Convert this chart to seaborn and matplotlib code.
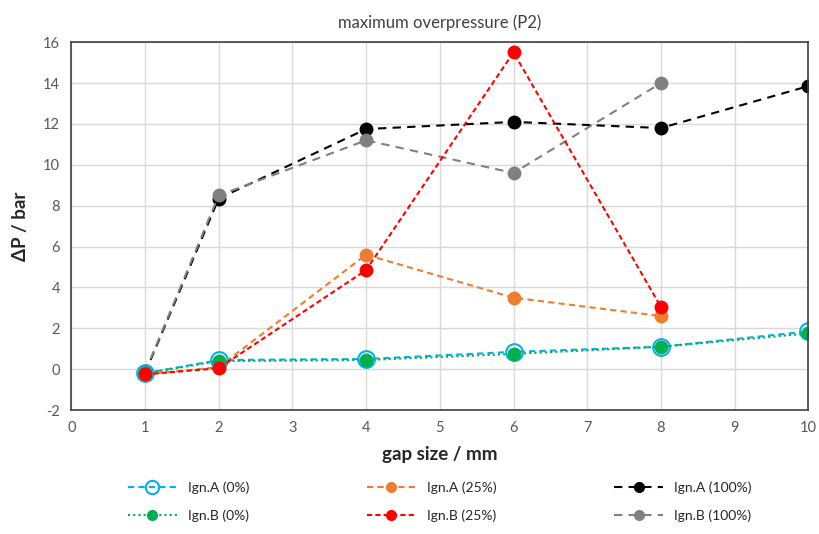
import numpy as np
import pandas as pd
import matplotlib
matplotlib.use("Agg")
import matplotlib.pyplot as plt
import seaborn as sns

# data
gap_a0 = [1, 2, 4, 6, 8, 10]
ign_a_0 = [-0.2, 0.45, 0.5, 0.85, 1.1, 1.85]
gap_b0 = [1, 2, 4, 6, 8, 10]
ign_b_0 = [-0.2, 0.4, 0.45, 0.75, 1.1, 1.75]
gap_25 = [1, 2, 4, 6, 8]
ign_a_25 = [-0.25, 0.1, 5.6, 3.5, 2.6]
ign_b_25 = [-0.25, 0.05, 4.85, 15.5, 3.05]
gap_a100 = [1, 2, 4, 6, 8, 10]
ign_a_100 = [-0.2, 8.35, 11.75, 12.1, 11.8, 13.85]
gap_b100 = [1, 2, 4, 6, 8]
ign_b_100 = [-0.15, 8.5, 11.2, 9.6, 14.0]

sns.set_style("white")
plt.rcParams['font.family'] = ['Lato', 'DejaVu Sans']
plt.rcParams['axes.unicode_minus'] = False

fig, ax = plt.subplots(figsize=(8.19, 5.34), dpi=100)
fig.subplots_adjust(left=0.087, right=0.987, top=0.921, bottom=0.232)

# series: (x, y, label, color, linestyle, marker face, marker size)
series = [
    (gap_a0, ign_a_0, "Ign.A (0%)", "#00B0F0", (0, (3, 2)), "none", 12),
    (gap_b0, ign_b_0, "Ign.B (0%)", "#00B050", (0, (1, 1.5)), "#00B050", 10),
    (gap_25, ign_a_25, "Ign.A (25%)", "#ED7D31", (0, (3, 2)), "#ED7D31", 10),
    (gap_25, ign_b_25, "Ign.B (25%)", "#FF0000", (0, (2.5, 1.5)), "#FF0000", 10),
    (gap_a100, ign_a_100, "Ign.A (100%)", "#000000", (0, (4, 3)), "#000000", 10),
    (gap_b100, ign_b_100, "Ign.B (100%)", "#808080", (0, (4, 3)), "#808080", 10),
]

draw_order = [4, 5, 2, 0, 1, 3]
handles = {}
for i in draw_order:
    x, y, lab, col, ls, mfc, ms = series[i]
    sns.lineplot(x=x, y=y, ax=ax, color=col, linestyle=ls, linewidth=1.5,
                 marker="o", markersize=ms, markerfacecolor=mfc,
                 markeredgecolor=col, markeredgewidth=1.5 if mfc == "none" else 0,
                 label=lab, sort=False)
    handles[lab] = ax.get_lines()[-1]

ax.set_xlim(0, 10)
ax.set_ylim(-2, 16)
ax.set_xticks(range(0, 11))
ax.set_yticks(range(-2, 17, 2))
ax.grid(True, color="#D9D9D9", linewidth=1)
for s in ax.spines.values():
    s.set_color("#404040")
    s.set_linewidth(1.2)
ax.tick_params(axis="both", labelsize=10.5, colors="#595959", length=0, pad=8)

ax.set_title("maximum overpressure (P2)", fontsize=12, color="#404040", pad=10)
ax.set_xlabel("gap size / mm", fontsize=13.5, fontweight="bold", labelpad=8)
ax.set_ylabel("ΔP / bar", fontsize=13.5, fontweight="bold", labelpad=10)

order = ["Ign.A (0%)", "Ign.B (0%)", "Ign.A (25%)", "Ign.B (25%)",
         "Ign.A (100%)", "Ign.B (100%)"]
leg = ax.legend([handles[k] for k in order], order, ncol=3, loc="upper center",
                bbox_to_anchor=(0.5, -0.16), frameon=False, fontsize=10,
                handlelength=3.5, columnspacing=8.5, labelspacing=1.1,
                markerscale=0.8)
for t in leg.get_texts():
    t.set_color("#262626")

plt.savefig("out.png", dpi=100)
